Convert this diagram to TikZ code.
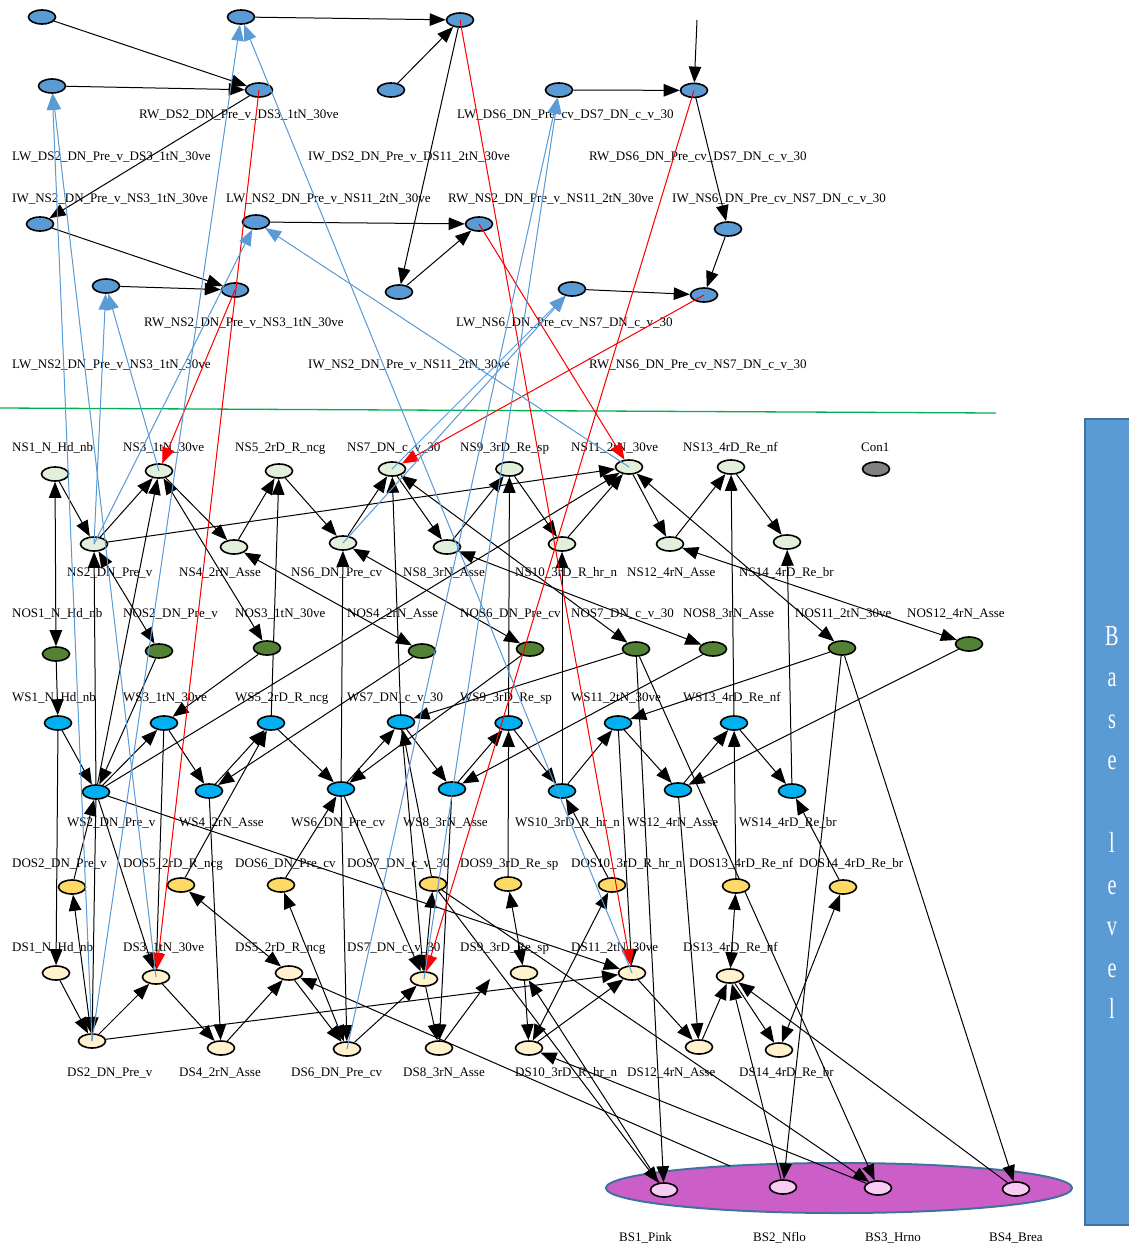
\documentclass[tikz,border=0pt]{standalone}
\usepackage{fontspec}
\setmainfont{Liberation Serif}
\newfontfamily\panelfont[FakeStretch=0.7]{Liberation Serif}
\usetikzlibrary{arrows.meta,shapes.geometric}
\definecolor{topblue}{HTML}{5B9BD5}
\definecolor{nsgreen}{HTML}{E2EFDA}
\definecolor{nosgreen}{HTML}{548235}
\definecolor{wscyan}{HTML}{00B0F0}
\definecolor{dosgold}{HTML}{FFD966}
\definecolor{dscream}{HTML}{FFF2CC}
\definecolor{bspink}{HTML}{F9CCF5}
\definecolor{grpfill}{HTML}{CC5FC7}
\definecolor{grpline}{HTML}{41719C}
\definecolor{sepgreen}{HTML}{00B050}
\definecolor{linkblue}{HTML}{5B9BD5}
\pgfdeclarelayer{back}
\pgfdeclarelayer{edges}
\pgfdeclarelayer{fore}
\pgfsetlayers{back,edges,main,fore}
\tikzset{
  >={Triangle[length=16pt,width=12.5pt]},
  nd/.style={ellipse, draw=black, line width=1.6pt, minimum width=27pt, minimum height=14pt, inner sep=0pt},
  tb/.style={nd, fill=topblue},
  ns/.style={nd, fill=nsgreen},
  nos/.style={nd, fill=nosgreen},
  ws/.style={nd, fill=wscyan},
  dos/.style={nd, fill=dosgold},
  dsn/.style={nd, fill=dscream},
  bsn/.style={nd, fill=bspink},
  cn/.style={nd, fill=gray},
  lab/.style={anchor=base west, inner sep=0pt, font=\fontsize{13}{15}\selectfont},
  ed/.style={->, line width=1pt},
  bi/.style={<->, line width=1pt},
  red link/.style={->, line width=1pt, draw=red, fill=red},
  blue link/.style={->, line width=1pt, draw=linkblue, fill=linkblue},
}
\begin{document}
\begin{tikzpicture}[x=1pt,y=-1pt]
\useasboundingbox (0,0) rectangle (1129,1247);

% ---------- upper wall nodes ----------
\node[tb] (T1) at (42,17) {};
\node[tb] (T2) at (241,17) {};
\node[tb] (T3) at (460,20) {};
\node[tb] (T4) at (52,86) {};
\node[tb] (T5) at (259,90) {};
\node[tb] (T6) at (391,90) {};
\node[tb] (T7) at (559,90) {};
\node[tb] (T8) at (694,90.4) {};
\node[tb] (T9) at (40,224) {};
\node[tb] (T10) at (256,222) {};
\node[tb] (T11) at (479,224) {};
\node[tb] (T12) at (728,229) {};
\node[tb] (T13) at (106,286) {};
\node[tb] (T14) at (235,290) {};
\node[tb] (T15) at (399,292) {};
\node[tb] (T16) at (572,289) {};
\node[tb] (T17) at (704,295) {};
\coordinate (Ttop) at (697,20);

% ---------- upper wall labels ----------
\node[lab] at (139,118.5) {RW\_DS2\_DN\_Pre\_v\_DS3\_1tN\_30ve};
\node[lab] at (457,118.5) {LW\_DS6\_DN\_Pre\_cv\_DS7\_DN\_c\_v\_30};
\node[lab] at (12,160.5) {LW\_DS2\_DN\_Pre\_v\_DS3\_1tN\_30ve};
\node[lab] at (308,160.5) {IW\_DS2\_DN\_Pre\_v\_DS11\_2tN\_30ve};
\node[lab] at (589,160.5) {RW\_DS6\_DN\_Pre\_cv\_DS7\_DN\_c\_v\_30};
\node[lab] at (12,202.5) {IW\_NS2\_DN\_Pre\_v\_NS3\_1tN\_30ve};
\node[lab] at (226,202.5) {LW\_NS2\_DN\_Pre\_v\_NS11\_2tN\_30ve};
\node[lab] at (448,202.5) {RW\_NS2\_DN\_Pre\_v\_NS11\_2tN\_30ve};
\node[lab] at (672,202.5) {IW\_NS6\_DN\_Pre\_cv\_NS7\_DN\_c\_v\_30};
\node[lab] at (144,326.5) {RW\_NS2\_DN\_Pre\_v\_NS3\_1tN\_30ve};
\node[lab] at (456,326.5) {LW\_NS6\_DN\_Pre\_cv\_NS7\_DN\_c\_v\_30};
\node[lab] at (12,368.5) {LW\_NS2\_DN\_Pre\_v\_NS3\_1tN\_30ve};
\node[lab] at (308,368.5) {IW\_NS2\_DN\_Pre\_v\_NS11\_2tN\_30ve};
\node[lab] at (589,368.5) {RW\_NS6\_DN\_Pre\_cv\_NS7\_DN\_c\_v\_30};

% ---------- NS rows ----------
\node[ns] (NS1) at (55,474) {};
\node[ns] (NS3) at (159,471) {};
\node[ns] (NS5) at (279,471) {};
\node[ns] (NS7) at (392,469) {};
\node[ns] (NS9) at (509.4,469) {};
\node[ns] (NS11) at (629,467) {};
\node[ns] (NS13) at (731,467) {};
\node[cn] (Con1) at (876,469) {};
\node[ns] (NS2) at (94,544) {};
\node[ns] (NS4) at (234,547) {};
\node[ns] (NS6) at (343,543) {};
\node[ns] (NS8) at (447,547) {};
\node[ns] (NS10) at (562,544) {};
\node[ns] (NS12) at (670,544) {};
\node[ns] (NS14) at (787,542) {};

% ---------- NOS row ----------
\node[nos] (NOS1) at (56,654) {};
\node[nos] (NOS2) at (159,651) {};
\node[nos] (NOS3) at (267,648) {};
\node[nos] (NOS4) at (422,651) {};
\node[nos] (NOS6) at (530,649) {};
\node[nos] (NOS7) at (636,649) {};
\node[nos] (NOS8) at (713,649) {};
\node[nos] (NOS11) at (842,648) {};
\node[nos] (NOS12) at (969,644) {};

% ---------- WS rows ----------
\node[ws] (WS1) at (58,723) {};
\node[ws] (WS3) at (164,723) {};
\node[ws] (WS5) at (271,723) {};
\node[ws] (WS7) at (401,722) {};
\node[ws] (WS9) at (508.6,723) {};
\node[ws] (WS11) at (618,723) {};
\node[ws] (WS13) at (734,723) {};
\node[ws] (WS2) at (96,792) {};
\node[ws] (WS4) at (209,791) {};
\node[ws] (WS6) at (341,789) {};
\node[ws] (WS8) at (452,789) {};
\node[ws] (WS10) at (562,791) {};
\node[ws] (WS12) at (678,790) {};
\node[ws] (WS14) at (792,791) {};

% ---------- DOS row ----------
\node[dos] (DOS2) at (72,887) {};
\node[dos] (DOS5) at (181,885) {};
\node[dos] (DOS6) at (281,885) {};
\node[dos] (DOS7) at (433,884) {};
\node[dos] (DOS9) at (508,884) {};
\node[dos] (DOS10) at (612,885) {};
\node[dos] (DOS13) at (736,886) {};
\node[dos] (DOS14) at (843,887) {};

% ---------- DS rows ----------
\node[dsn] (DS1) at (56,973) {};
\node[dsn] (DS3) at (156,977) {};
\node[dsn] (DS5) at (289,973) {};
\node[dsn] (DS7) at (424,979) {};
\node[dsn] (DS9) at (524,973) {};
\node[dsn] (DS11) at (632,973) {};
\node[dsn] (DS13) at (730,976) {};
\node[dsn] (DS2) at (92,1041) {};
\node[dsn] (DS4) at (221,1048) {};
\node[dsn] (DS6) at (347,1049) {};
\node[dsn] (DS8) at (439,1048) {};
\node[dsn] (DS10) at (529,1048) {};
\node[dsn] (DS12) at (699,1047) {};
\node[dsn] (DS14) at (779,1050) {};
\coordinate (DS9port) at (490,979);

% ---------- base group, separator and side panel ----------
\begin{pgfonlayer}{back}
\node[ellipse, draw=grpline, fill=grpfill, line width=2pt, minimum width=466pt, minimum height=50pt] (BSG) at (839,1188) {};
\draw[sepgreen, line width=1.3pt] (0,408) -- (996,413);
\fill[topblue] (1085,419) rectangle (1129,1225);
\draw[grpline, line width=2pt] (1129,419) -- (1085,419) -- (1085,1225) -- (1129,1225);
\end{pgfonlayer}
\coordinate (gA) at (730,1166);
\node[bsn] (BS1) at (664,1190) {};
\node[bsn] (BS2) at (783,1187) {};
\node[bsn] (BS3) at (878,1188) {};
\node[bsn] (BS4) at (1016,1189) {};

% ---------- row labels ----------
\foreach \x/\t in {12/NS1\_N\_Hd\_nb, 123/NS3\_1tN\_30ve, 235/NS5\_2rD\_R\_ncg, 347/NS7\_DN\_c\_v\_30, 460/NS9\_3rD\_Re\_sp, 571/NS11\_2tN\_30ve, 683/NS13\_4rD\_Re\_nf, 861/Con1}
  \node[lab] at (\x,451.5) {\t};
\foreach \x/\t in {67/NS2\_DN\_Pre\_v, 179/NS4\_2rN\_Asse, 291/NS6\_DN\_Pre\_cv, 403/NS8\_3rN\_Asse, 515/NS10\_3rD\_R\_hr\_n, 627/NS12\_4rN\_Asse, 739/NS14\_4rD\_Re\_br}
  \node[lab] at (\x,576.5) {\t};
\foreach \x/\t in {12/NOS1\_N\_Hd\_nb, 123/NOS2\_DN\_Pre\_v, 235/NOS3\_1tN\_30ve, 347/NOS4\_2rN\_Asse, 460/NOS6\_DN\_Pre\_cv, 571/NOS7\_DN\_c\_v\_30, 683/NOS8\_3rN\_Asse, 795/NOS11\_2tN\_30ve, 907/NOS12\_4rN\_Asse}
  \node[lab] at (\x,617.5) {\t};
\foreach \x/\t in {12/WS1\_N\_Hd\_nb, 123/WS3\_1tN\_30ve, 235/WS5\_2rD\_R\_ncg, 347/WS7\_DN\_c\_v\_30, 460/WS9\_3rD\_Re\_sp, 571/WS11\_2tN\_30ve, 683/WS13\_4rD\_Re\_nf}
  \node[lab] at (\x,701.5) {\t};
\foreach \x/\t in {67/WS2\_DN\_Pre\_v, 179/WS4\_2rN\_Asse, 291/WS6\_DN\_Pre\_cv, 403/WS8\_3rN\_Asse, 515/WS10\_3rD\_R\_hr\_n, 627/WS12\_4rN\_Asse, 739/WS14\_4rD\_Re\_br}
  \node[lab] at (\x,826.5) {\t};
\foreach \x/\t in {12/DOS2\_DN\_Pre\_v, 123/DOS5\_2rD\_R\_ncg, 235/DOS6\_DN\_Pre\_cv, 347/DOS7\_DN\_c\_v\_30, 460/DOS9\_3rD\_Re\_sp, 571/DOS10\_3rD\_R\_hr\_n, 689/DOS13\_4rD\_Re\_nf, 799/DOS14\_4rD\_Re\_br}
  \node[lab] at (\x,867.5) {\t};
\foreach \x/\t in {12/DS1\_N\_Hd\_nb, 123/DS3\_1tN\_30ve, 235/DS5\_2rD\_R\_ncg, 347/DS7\_DN\_c\_v\_30, 460/DS9\_3rD\_Re\_sp, 571/DS11\_2tN\_30ve, 683/DS13\_4rD\_Re\_nf}
  \node[lab] at (\x,951.5) {\t};
\foreach \x/\t in {67/DS2\_DN\_Pre\_v, 179/DS4\_2rN\_Asse, 291/DS6\_DN\_Pre\_cv, 403/DS8\_3rN\_Asse, 515/DS10\_3rD\_R\_hr\_n, 627/DS12\_4rN\_Asse, 739/DS14\_4rD\_Re\_br}
  \node[lab] at (\x,1076.5) {\t};
\foreach \x/\t in {619/BS1\_Pink, 753/BS2\_Nflo, 865/BS3\_Hrno, 989/BS4\_Brea}
  \node[lab] at (\x,1241.5) {\t};

% ---------- side panel caption ----------
\foreach \c [count=\i from 0] in {B,a,s,e,{},l,e,v,e,l}
  \node[anchor=base, inner sep=0pt, text=white, font=\panelfont\fontsize{29}{31}\selectfont] at (1112,645+41.5*\i) {\c};

% ---------- black connectors ----------
\begin{pgfonlayer}{edges}
\foreach \a/\b in {T1/T5, T4/T5, T5/T9, T9/T14, T13/T14, T2/T3, T6/T3, T3/T15, T15/T11, T10/T11, Ttop/T8, T7/T8, T8/T12, T12/T17, T16/T17}
  \draw[ed] (\a) -- (\b);
% NS chain
\foreach \a/\b in {NS1/NS2, NS2/NS3, NS3/NS4, NS4/NS5, NS5/NS6, NS6/NS7, NS7/NS8, NS8/NS9, NS9/NS10, NS10/NS11, NS11/NS12, NS12/NS13, NS13/NS14, NS2/NS11}
  \draw[ed] (\a) -- (\b);
% NS <-> NOS
\foreach \a/\b in {NS1/NOS1, NS2/NOS2, NS3/NOS3, NS4/NOS4, NS6/NOS6, NS7/NOS7, NS8/NOS8, NS11/NOS11, NS12/NOS12}
  \draw[bi] (\a) -- (\b);
% NOS -> WS
\foreach \a/\b in {NOS1/WS1, NOS2/WS2, NOS3/WS3, NOS4/WS4, NOS6/WS6, NOS7/WS7, NOS8/WS8, NOS11/WS11, NOS12/WS12}
  \draw[ed] (\a) -- (\b);
% WS chain
\foreach \a/\b in {WS1/WS2, WS2/WS3, WS3/WS4, WS4/WS5, WS5/WS6, WS6/WS7, WS7/WS8, WS8/WS9, WS9/WS10, WS10/WS11, WS11/WS12, WS12/WS13, WS13/WS14}
  \draw[ed] (\a) -- (\b);
% WS -> NS
\foreach \a/\b in {WS2/NS2, WS2/NS3, WS2/NS11, WS5/NS5, WS6/NS6, WS7/NS7, WS9/NS9, WS10/NS10, WS13/NS13, WS14/NS14}
  \draw[ed] (\a) -- (\b);
% DOS -> WS and DOS <-> DS
\foreach \n in {2,5,6,7,9,10,13,14} {
  \draw[ed] (DOS\n) -- (WS\n);
  \draw[bi] (DOS\n) -- (DS\n);
}
% WS -> DS
\foreach \a/\b in {WS1/DS1, WS2/DS2, WS2/DS3, WS3/DS3, WS4/DS4, WS6/DS6, WS6/DS7, WS7/DS7, WS8/DS8, WS11/DS11, WS12/DS12, WS2/DS11}
  \draw[ed] (\a) -- (\b);
% DS chain
\foreach \a/\b in {DS1/DS2, DS2/DS3, DS3/DS4, DS4/DS5, DS5/DS6, DS6/DS7, DS7/DS8, DS8/DS9port, DS9/DS10, DS10/DS11, DS11/DS12, DS12/DS13, DS13/DS14, DS2/DS11}
  \draw[ed] (\a) -- (\b);
% base links
\foreach \a/\b in {NOS7/BS1, NOS7/BS3, NOS11/BS2, NOS11/BS4, DOS7/BS1, DOS7/BS3, BS1/DS9, BS3/DS10, BS2/DS13, BS4/DS13, gA/DS5}
  \draw[ed] (\a) -- (\b);
\end{pgfonlayer}

% ---------- coloured wall links ----------
\begin{pgfonlayer}{fore}
\foreach \a/\b in {T5/DS3, T14/NS3, T3/DS11, T11/NS11, T8/DS7, T17/NS7}
  \draw[red link] (\a.center) -- (\b);
\foreach \a/\b in {DS2/T4, DS3/T4, DS2/T2, DS11/T2, NS2/T13, NS3/T13, NS2/T10, NS11/T10, DS6/T7, DS7/T7, NS6/T16, NS7/T16}
  \draw[blue link] (\a.center) -- (\b);
\end{pgfonlayer}
\end{tikzpicture}
\end{document}
